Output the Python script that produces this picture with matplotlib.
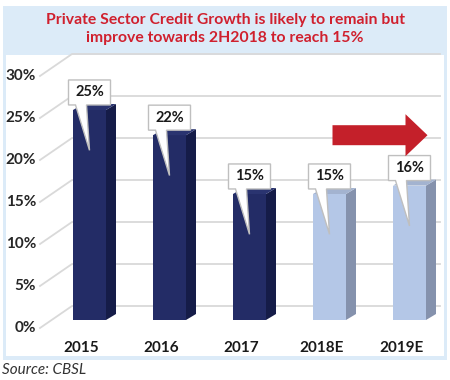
import numpy as np
import matplotlib.pyplot as plt
from matplotlib.patches import Polygon, Rectangle, FancyArrow

# dados do grafico
years = ['2015', '2016', '2017', '2018E', '2019E']
growth = [25, 22, 15, 15, 16]
estimate = [False, False, False, True, True]
yticks = [0, 5, 10, 15, 20, 25, 30]
title = 'Private Sector Credit Growth is likely to remain but\nimprove towards 2H2018 to reach 15%'
source = 'Source: CBSL'

# cores
dark_front, dark_side, dark_top = '#232C66', '#151C48', '#2A3470'
light_front, light_side, light_top = '#B4C7E7', '#8592AD', '#A3B3D0'
title_red = '#D0202E'
frame_blue = '#DCEBF8'

plt.rcParams['font.family'] = ['Lato', 'DejaVu Sans']

W, H = 450, 380
fig = plt.figure(figsize=(W / 100, H / 100), dpi=100)
ax = fig.add_axes([0, 0, 1, 1])
# escala: 80 px por categoria, 8.4 px por ponto percentual
x0_px, step_px, base_px, unit_px = 89.5, 80.0, 320.0, 8.4
ax.set_xlim(-x0_px / step_px, (W - x0_px) / step_px)
ax.set_ylim(-(H - base_px) / unit_px, base_px / unit_px)
ax.axis('off')

def px(dx):  # deslocamento horizontal em px -> unidades
    return dx / step_px

def py(dy):
    return dy / unit_px

# moldura azul e painel branco (coordenadas da figura)
fig.patches.append(Rectangle((3 / W, 1 - 360 / H), 444 / W, 354 / H, transform=fig.transFigure,
                             facecolor=frame_blue, edgecolor='none', zorder=-2))
fig.patches.append(Rectangle((6 / W, 1 - 356 / H), 438 / W, 301 / H, transform=fig.transFigure,
                             facecolor='white', edgecolor='none', zorder=-1))

# grade 3D (parede de fundo)
front_x, back_x, end_x = px(40 - x0_px), px(72 - x0_px), px(440 - x0_px)
for t in yticks:
    yf, yb = t - py(8), t + py(14)
    ax.plot([front_x, back_x, end_x], [yf, yb, yb], color='#D9D9D9', lw=1.3, zorder=1)
    ax.text(px(36 - x0_px), t - py(8), f'{t}%', ha='right', va='center',
            fontsize=11, fontweight='bold', color='#262626', zorder=5)

# barras 3D
bw = px(33)
dep_x, dep_y = px(10), py(6)
xs = np.arange(len(years))
for x, v, est in zip(xs, growth, estimate):
    fc, sc, tc = (light_front, light_side, light_top) if est else (dark_front, dark_side, dark_top)
    left, right = x - bw / 2, x + bw / 2
    ax.bar(x, v, width=bw, color=fc, zorder=3)
    ax.add_patch(Polygon([(right, 0), (right + dep_x, dep_y), (right + dep_x, v + dep_y), (right, v)],
                         closed=True, facecolor=sc, edgecolor='none', zorder=3))
    ax.add_patch(Polygon([(left, v), (left + dep_x, v + dep_y), (right + dep_x, v + dep_y), (right, v)],
                         closed=True, facecolor=tc, edgecolor='none', zorder=3))

    # balao com o valor
    bx0, bx1 = x - px(21), x + px(21)
    by0, by1 = v + 0.6, v + 0.6 + py(25)
    tip = (x, v - 4.8)
    ax.add_patch(Polygon([(bx0, by0), (bx0, by1), (bx1, by1), (bx1, by0),
                          (x - px(3), by0), tip, (x - px(14), by0)],
                         closed=True, facecolor='white', edgecolor='#BFBFBF', lw=1, zorder=4))
    ax.text(x, (by0 + by1) / 2, f'{v}%', ha='center', va='center', fontsize=10.5,
            fontweight='bold', color='#1A1A1A', zorder=5)

    ax.text(x - px(8), -py(28), years[x], ha='center', va='center', fontsize=11,
            fontweight='bold', color='#1A1A1A', zorder=5)

# seta vermelha
ax.add_patch(FancyArrow(xs[3] + px(3), growth[4] + 6, px(95), 0, width=py(20), head_width=py(42),
                        head_length=px(22), length_includes_head=True, color='#C4202A',
                        lw=0, zorder=5))

fig.text(225 / W, 1 - 29 / H, title, ha='center', va='center', fontsize=11.3,
         fontweight='bold', color=title_red, linespacing=1.3)
fig.text(2 / W, 1 - 370 / H, source, ha='left', va='center', fontsize=11,
         fontstyle='italic', color='#333333')

plt.savefig('out.png', dpi=100)
